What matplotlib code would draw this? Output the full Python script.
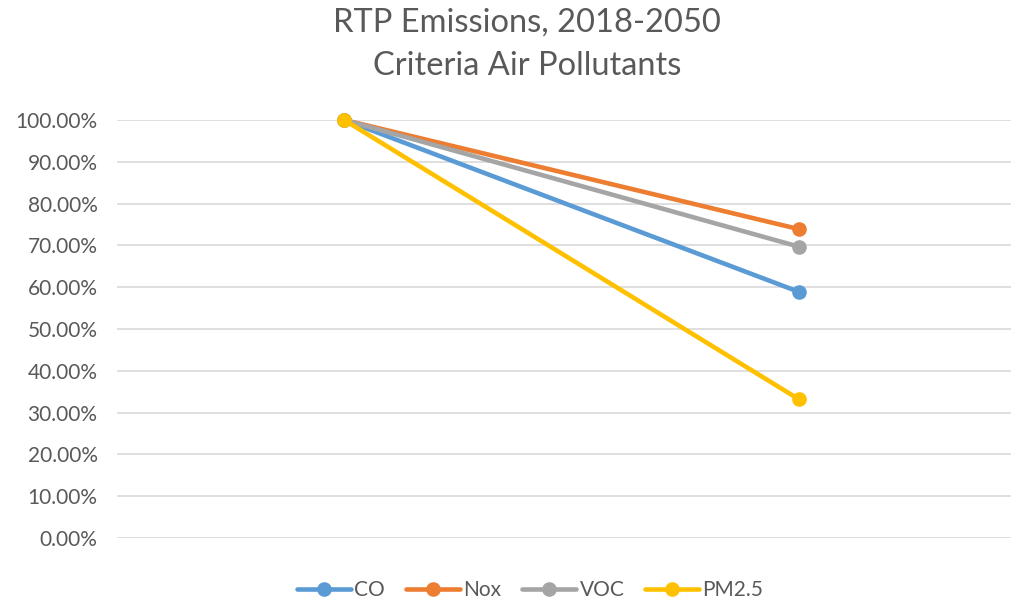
import matplotlib
matplotlib.use("Agg")
import matplotlib.pyplot as plt
from matplotlib.ticker import PercentFormatter

# data
categories = ["2018", "2050"]
series_names = ["CO", "Nox", "VOC", "PM2.5"]
co = [1.0, 0.589]
nox = [1.0, 0.739]
voc = [1.0, 0.697]
pm25 = [1.0, 0.332]
yticks = [0.0, 0.1, 0.2, 0.3, 0.4, 0.5, 0.6, 0.7, 0.8, 0.9, 1.0]

colors = ["#5B9BD5", "#ED7D31", "#A5A5A5", "#FFC000"]
text_color = "#595959"

plt.rcParams['font.family'] = ['Lato', 'DejaVu Sans']

fig = plt.figure(figsize=(10.12, 6.0), dpi=100)
# plot area runs a little past the right edge, like the original
ax = fig.add_axes([117 / 1012, 1 - 538 / 600, (1026 - 117) / 1012, (538 - 120) / 600])

x = list(range(len(categories)))
for name, vals, c in zip(series_names, [co, nox, voc, pm25], colors):
    ax.plot(x, vals, color=c, linewidth=3.3, marker='o', markersize=9.5,
            label=name, clip_on=False, solid_capstyle='round', zorder=3)

ax.set_xlim(-0.5, 1.5)
ax.set_ylim(0, 1.0)
ax.set_yticks(yticks)
ax.yaxis.set_major_formatter(PercentFormatter(1.0, decimals=2))
ax.set_xticks(x)
ax.set_xticklabels(["", ""])
ax.tick_params(axis='both', length=0, labelsize=15, colors=text_color, pad=14)
ax.grid(axis='y', color='#D9D9D9', linewidth=1.2)
ax.set_axisbelow(True)
for s in ax.spines.values():
    s.set_visible(False)

fig.text(0.521, 0.962, "RTP Emissions, 2018-2050", ha='center', va='center',
         fontsize=23.5, color=text_color)
fig.text(0.521, 0.89, "Criteria Air Pollutants", ha='center', va='center',
         fontsize=23.5, color=text_color)

fig.legend(loc='center', bbox_to_anchor=(0.524, 0.017), ncol=4, frameon=False,
           fontsize=15, labelcolor=text_color, handlelength=2.6,
           columnspacing=1.0, handletextpad=0.15)

fig.savefig("out.png", dpi=100)
